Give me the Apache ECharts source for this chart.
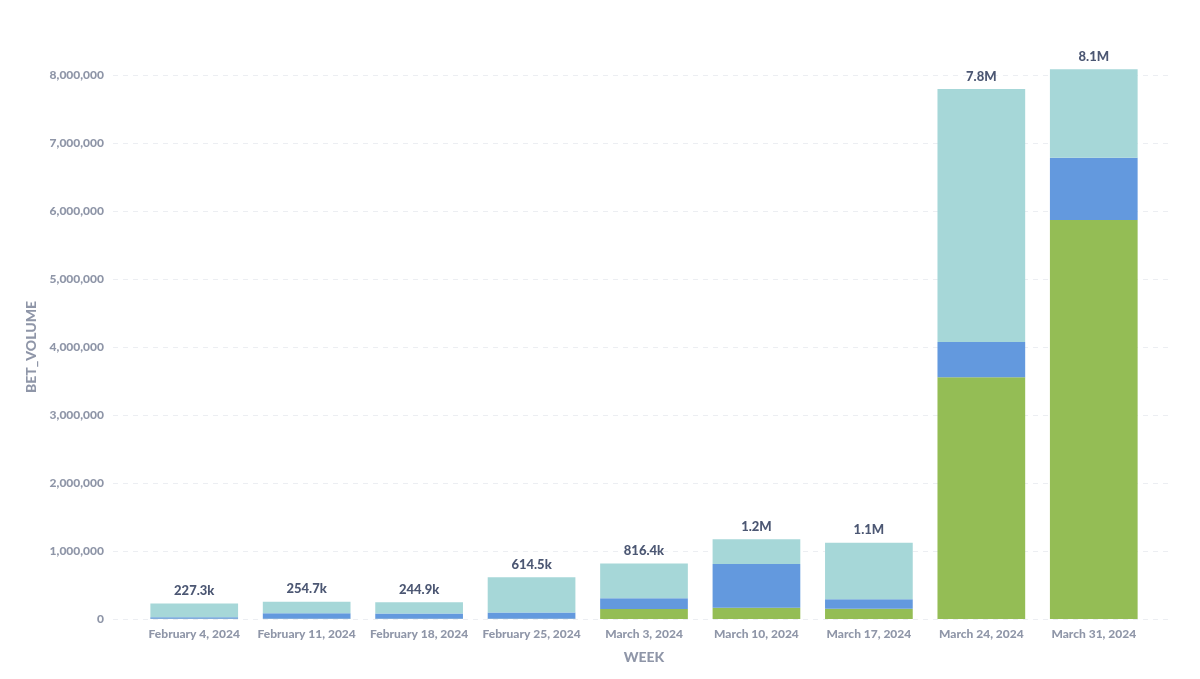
<!DOCTYPE html>
<html>
<head>
<meta charset="utf-8">
<script src="https://cdn.jsdelivr.net/npm/echarts@6/dist/echarts.min.js"></script>
<style>
html,body{margin:0;padding:0;background:#fff;}
#chart{width:1200px;height:679px;}
</style>
</head>
<body>
<div id="chart"></div>
<script>
const weeks = ["February 4, 2024","February 11, 2024","February 18, 2024","February 25, 2024","March 3, 2024","March 10, 2024","March 17, 2024","March 24, 2024","March 31, 2024"];
const greenSeries = [5000, 5000, 5000, 5000, 147000, 166000, 151000, 3554000, 5868000];
const blueSeries  = [22000, 80000, 75000, 90000, 157000, 643000, 139000, 520000, 916000];
const tealSeries  = [200300, 169700, 164900, 519500, 512400, 363000, 832000, 3720000, 1300000];
const yTicks = [0, 1000000, 2000000, 3000000, 4000000, 5000000, 6000000, 7000000, 8000000];

const totals = weeks.map((_, i) => greenSeries[i] + blueSeries[i] + tealSeries[i]);
function compact(v) {
  if (v >= 1e6) return (Math.round(v / 1e5) / 10).toFixed(1) + 'M';
  if (v >= 1e3) return (Math.round(v / 100) / 10).toFixed(1) + 'k';
  return String(v);
}
const font = 'Lato, "Noto Sans", sans-serif';
const axisColor = '#8F96A8';
const yMax = yTicks[yTicks.length - 1];
const yStep = yTicks[1] - yTicks[0];

const chart = echarts.init(document.getElementById('chart'));
chart.setOption({
  animation: false,
  grid: [
    {left: 138, right: 50, top: 75, bottom: 60},
    {left: 113, right: 28, top: 75, bottom: 60}
  ],
  xAxis: [
    {
      type: 'category', gridIndex: 0, data: weeks,
      axisLine: {show: false}, axisTick: {show: false},
      axisLabel: {color: axisColor, fontFamily: font, fontWeight: 900, fontSize: 12, margin: 9, interval: 0},
      name: 'WEEK', nameLocation: 'middle', nameGap: 31,
      nameTextStyle: {color: axisColor, fontFamily: font, fontWeight: 900, fontSize: 14}
    },
    {type: 'value', gridIndex: 1, show: false, min: 0, max: 1}
  ],
  yAxis: [
    {
      type: 'value', gridIndex: 0, min: 0, max: yMax, interval: yStep,
      axisLabel: {show: false}, splitLine: {show: false}, axisLine: {show: false}, axisTick: {show: false}
    },
    {
      type: 'value', gridIndex: 1, min: 0, max: yMax, interval: yStep,
      axisLine: {show: false}, axisTick: {show: false},
      axisLabel: {color: axisColor, fontFamily: font, fontWeight: 900, fontSize: 12, margin: 9,
        formatter: v => v.toLocaleString('en-US')},
      splitLine: {show: true, lineStyle: {color: '#ECEEF2', type: [5, 5], width: 1}},
      name: 'BET_VOLUME', nameLocation: 'middle', nameGap: 62,
      nameTextStyle: {color: axisColor, fontFamily: font, fontWeight: 900, fontSize: 14}
    }
  ],
  series: [
    {type: 'bar', name: 'green', stack: 'total', xAxisIndex: 0, yAxisIndex: 0, barWidth: '78%', clip: false,
      itemStyle: {color: '#94BD55'}, data: greenSeries},
    {type: 'bar', name: 'blue', stack: 'total', xAxisIndex: 0, yAxisIndex: 0, barWidth: '78%', clip: false,
      itemStyle: {color: '#6399DE'}, data: blueSeries},
    {type: 'bar', name: 'teal', stack: 'total', xAxisIndex: 0, yAxisIndex: 0, barWidth: '78%', clip: false,
      itemStyle: {color: '#A6D7D8'}, data: tealSeries,
      label: {show: true, position: 'top', distance: 6, color: '#4C5773', fontFamily: font,
        fontWeight: 900, fontSize: 13,
        formatter: p => compact(totals[p.dataIndex])}}
  ]
});
</script>
</body>
</html>
